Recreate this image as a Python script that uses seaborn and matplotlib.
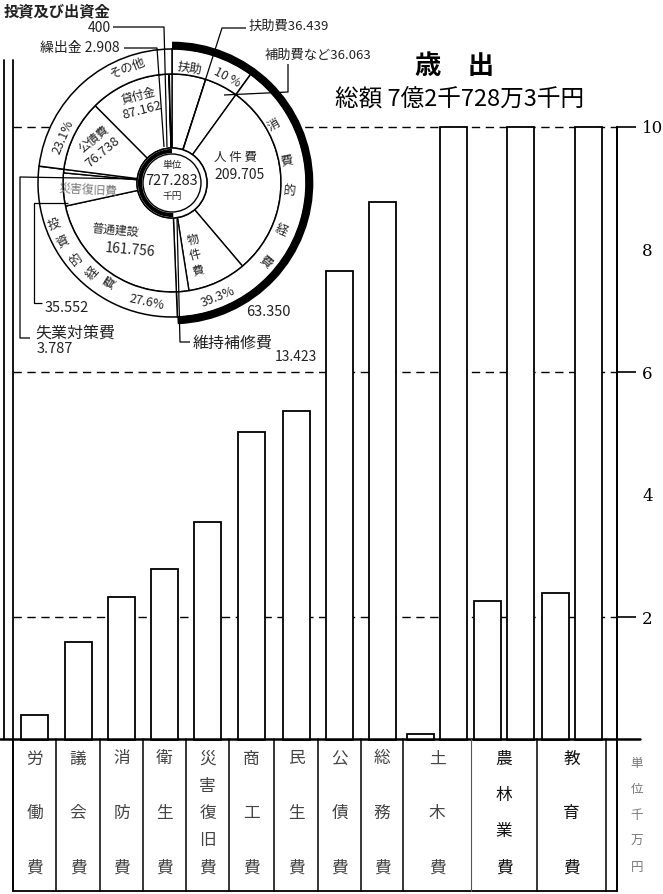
import numpy as np
import pandas as pd
import matplotlib
matplotlib.use("Agg")
import matplotlib.pyplot as plt
from matplotlib.patches import Arc, Circle
import seaborn as sns

# ---------------- data ----------------
categories = ['労働費', '議会費', '消防費', '衛生費', '災害復旧費', '商工費',
              '民生費', '公債費', '総務費', '土木費', '農林業費', '教育費']
values = [0.40, 1.60, 2.33, 2.79, 3.56, 5.02, 5.37, 7.65, 8.78, 10.10, 12.27, 12.40]  # 千万円
y_ticks = [2, 4, 6, 8, 10]
y_tick_labels = ['2', '4', '6', '8', '10']
grid_levels = [2, 6, 10]
unit_label = '単位千万円'

pie_items = ['扶助費', '補助費など', '人件費', '物件費', '維持補修費', '普通建設',
             '災害復旧費', '失業対策費', '公債費', '貸付金', '投資及び出資金', '繰出金']
pie_values = [36.439, 36.063, 209.705, 63.350, 13.423, 161.756,
              35.552, 3.787, 76.738, 87.162, 0.400, 2.908]  # 百万円
pie_groups = ['扶助', '扶助', '消費的経費', '消費的経費', '消費的経費', '投資的経費',
              '投資的経費', '投資的経費', 'その他', 'その他', 'その他', 'その他']
group_names = ['扶助', '消費的経費', '投資的経費', 'その他']
group_pct_labels = ['10 %', '39.3%', '27.6%', '23.1%']
pie_total_label = '727.283'

title = '歳　出'
subtitle = '総額 7億2千728万3千円'

# ---------------- style ----------------
sns.set_theme(style="white")
plt.rcParams['font.family'] = ['Noto Sans CJK JP', 'DejaVu Sans']

W, H = 663, 894
fig = plt.figure(figsize=(W / 100, H / 100), dpi=100)
fig.patch.set_facecolor('white')


def Y(py):
    return H - py


def vlab(i):
    v = pie_values[i]
    return f"{v:.3f}" if v >= 1 else f"{v * 1000:.0f}"


# ---------------- bar chart ----------------
y0_px, y10_px = 740, 127
bx = fig.add_axes([0, (H - y0_px) / H, 1, (y0_px - y10_px) / H])
bx.patch.set_alpha(0)
col_bounds = [13, 56, 100, 143, 186, 229, 274, 318, 361, 403, 471, 537, 606]
BAR_W, PAIR_OFF, CAP = 27, 16.5, 10
rows = []
for i, v in enumerate(values):
    cx = (col_bounds[i] + col_bounds[i + 1]) / 2
    if v > CAP:
        rows.append((cx - PAIR_OFF, v - CAP))
        rows.append((cx + PAIR_OFF, CAP))
    else:
        rows.append((cx, v))
df = pd.DataFrame(rows, columns=['pos', 'val'])
gap = np.diff(np.sort(df['pos'].values)).min()
sns.barplot(data=df, x='pos', y='val', native_scale=True, orient='x',
            width=BAR_W / gap, color='white', saturation=1, edgecolor='black',
            linewidth=1.3, errorbar=None, ax=bx, zorder=3, clip_on=False)
bx.set_xlim(0, W)
bx.set_ylim(0, 10)
bx.set_xlabel('')
bx.set_ylabel('')
bx.set_xticks([])
bx.hlines(grid_levels, 13, 617, colors='black', linestyles=(0, (6, 4)),
          linewidth=1.0, zorder=1, clip_on=False)
for s in ['top', 'left', 'bottom']:
    bx.spines[s].set_visible(False)
bx.spines['right'].set_position(('data', 617))
bx.spines['right'].set_linewidth(1.3)
bx.spines['right'].set_color('black')
bx.yaxis.tick_right()
bx.set_yticks(y_ticks, y_tick_labels)
bx.tick_params(axis='y', which='major', right=True, left=False, labelright=True,
               labelleft=False, length=14, width=1.2, pad=4, labelsize=12,
               labelfontfamily='DejaVu Serif', colors='black', direction='out')
for t, v in zip(bx.yaxis.get_major_ticks(), y_ticks):
    if v not in grid_levels:
        t.tick2line.set_visible(False)

# ---------------- overlay (pie, table, texts) ----------------
ov = fig.add_axes([0, 0, 1, 1])
ov.patch.set_alpha(0)

C = (172, Y(183))
R_OUT, R_MID, R_CEN = 134, 109, 35
ov.pie(pie_values, radius=R_MID, center=C, startangle=90, counterclock=False,
       colors=['white'] * len(pie_values),
       wedgeprops=dict(width=R_MID - R_CEN, edgecolor='black', linewidth=1.0))
group_vals = [sum(v for v, g in zip(pie_values, pie_groups) if g == n) for n in group_names]
ov.pie(group_vals, radius=R_OUT, center=C, startangle=90, counterclock=False,
       colors=['white'] * len(group_vals),
       wedgeprops=dict(width=R_OUT - R_MID, edgecolor='black', linewidth=1.1))
ov.set_xlim(0, W)
ov.set_ylim(0, H)
ov.set_aspect('auto')
ov.axis('off')

total = sum(group_vals)
frac_right = (group_vals[0] + group_vals[1]) / total
ov.add_patch(Circle(C, R_CEN, facecolor='white', edgecolor='black', lw=1.1, zorder=3))
ov.add_patch(Circle(C, 29, fill=False, edgecolor='black', lw=1.0, zorder=3))
ov.add_patch(Arc(C, 2 * 32, 2 * 32, theta1=90, theta2=90 + 360 * (1 - frac_right),
                 lw=3, color='black', zorder=4))
ov.add_patch(Arc(C, 2 * 137.5, 2 * 137.5, theta1=90 - 360 * frac_right, theta2=90,
                 lw=5.5, color='black', zorder=4))

TXT = '#222222'


def T(px, py, s, size=9, rot=0, ha='center', va='center', color=TXT, weight='normal', **kw):
    ov.text(px, Y(py), s, fontsize=size, rotation=rot, ha=ha, va=va, color=color,
            fontweight=weight, zorder=6, rotation_mode='anchor', **kw)


def L(pts, lw=0.9):
    xs = [p[0] for p in pts]
    ys = [Y(p[1]) for p in pts]
    ov.plot(xs, ys, color='black', lw=lw, zorder=5, solid_capstyle='butt')


cx_px, cy_px = 172, 183


def phi(px, py):
    return np.degrees(np.arctan2(cy_px - py, px - cx_px))


# outer ring labels
T(128, 68, group_names[3], 9, 21)
T(63, 137, group_pct_labels[3], 9, 67)
T(190, 68, group_names[0], 9, -9)
T(227, 78, group_pct_labels[0], 9, -28)
for ch, (px, py) in zip(group_names[1], [(274, 125), (287, 160), (289, 192), (281, 230), (266, 262)]):
    T(px, py, ch, 9, phi(px, py))
T(218, 297, group_pct_labels[1], 9, 22)
T(147, 302, group_pct_labels[2], 9, -12)
for ch, (px, py) in zip(group_names[2], [(54, 225), (63, 242), (77, 260), (92, 273), (110, 282)]):
    T(px, py, ch, 9, phi(px, py) - 180)

# inner ring labels
T(138, 96, pie_items[9], 8.5, 15)
T(142, 110, vlab(9), 9.5, 15)
T(94, 139, pie_items[8], 8.5, 40)
T(103, 152, vlab(8), 9.5, 40)
T(235, 158, ' '.join(pie_items[2]), 9, 0)
T(240, 175, vlab(2), 10, 0)
for ch, (px, py) in zip(pie_items[3], [(193, 240), (195, 255), (198, 270)]):
    T(px, py, ch, 8.5, 15)
T(115, 230, pie_items[5], 8.5, -5)
T(130, 250, vlab(5), 10, -5)
T(88, 190, pie_items[6], 8.5, -3, color='#777777')
T(172, 165, '単位', 7)
T(172, 181, pie_total_label, 10.5)
T(172, 196, '千円', 7)

# leader labels
T(110, 11, pie_items[10], 11, ha='right', weight='bold')
T(99, 28, vlab(10), 10)
L([(113, 27), (164, 27), (167, 147)])
T(80, 48, pie_items[11] + ' ' + vlab(11), 10)
L([(124, 48), (157, 48), (164, 147)])
T(248, 26, pie_items[0] + vlab(0), 9.5, ha='left')
L([(246, 28), (222, 28), (183, 150)])
T(265, 55, pie_items[1] + vlab(1), 9.5, ha='left')
L([(288, 64), (288, 92), (224, 95)])
T(45, 308, vlab(6), 10.5, ha='left')
L([(68, 203), (34, 203), (34, 303), (42, 303)])
T(35, 333, pie_items[7], 11.5, ha='left')
T(37, 349, vlab(7), 10.5, ha='left')
L([(137, 179), (20, 177), (20, 338), (30, 338)])
T(268, 312, vlab(3), 10.5)
T(193, 343, pie_items[4], 11.5, ha='left')
T(296, 357, vlab(4), 10)
L([(177, 219), (180, 342), (190, 342)])

# title
T(455, 67, title, 19, weight='bold', color='black')
T(460, 100, subtitle, 17, color='black')


# frame and table
def seg(x1, y1, x2, y2, lw=1.2, color='black'):
    ov.plot([x1, x2], [Y(y1), Y(y2)], color=color, lw=lw, zorder=2)


seg(4, 60, 4, 739, 1.3)
seg(13, 60, 13, 891, 1.3)
seg(617, 127, 617, 891, 1.3)
seg(0, 739, 640, 739, 1.8)
seg(13, 891, 617, 891, 1.3)
for xb in col_bounds + [617]:
    if xb == 471:
        seg(xb, 739, xb, 891, 0.8, color='#555555')
    else:
        seg(xb, 739, xb, 891, 1.1)

for i, name in enumerate(categories):
    cx = (col_bounds[i] + col_bounds[i + 1]) / 2
    n = len(name)
    top, bot = 759, 868
    dark = values[i] > 12
    for k, ch in enumerate(name):
        yy = top + (bot - top) * k / (n - 1)
        T(cx, yy, ch, 12, color='#111111' if dark else '#444444')

for k, ch in enumerate(unit_label):
    T(637, 763 + 26 * k, ch, 9, color='#777777')

fig.savefig('out.png', dpi=100, facecolor='white')
